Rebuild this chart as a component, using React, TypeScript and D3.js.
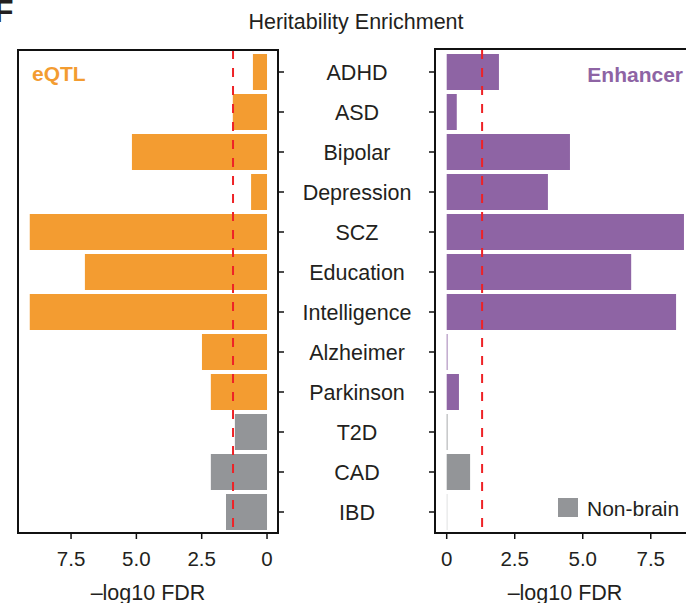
import * as d3 from 'd3';

const categories = ['ADHD', 'ASD', 'Bipolar', 'Depression', 'SCZ', 'Education', 'Intelligence', 'Alzheimer', 'Parkinson', 'T2D', 'CAD', 'IBD'];
const nonBrain = ['T2D', 'CAD', 'IBD'];
const eqtlValues = [0.54, 1.31, 5.17, 0.61, 9.08, 6.97, 9.08, 2.49, 2.15, 1.23, 2.15, 1.57];
const enhancerValues = [1.92, 0.37, 4.53, 3.72, 8.72, 6.78, 8.43, 0.03, 0.45, 0.02, 0.86, 0.01];
const xTicks = [0, 2.5, 5, 7.5];
const fdrCutoff = 1.301; // -log10(0.05)

const ORANGE = '#F39C31';
const PURPLE = '#8E64A4';
const GRAY = '#939598';
const RED = '#EE2226';
const FONT = '"Liberation Sans", Arial, Helvetica, sans-serif';

export default function App() {
  const width = 686;
  const height = 603;
  const top = 50;
  const bottom = 533;

  const y = d3.scaleBand<string>()
    .domain(categories)
    .range([top + 2, bottom - 1])
    .paddingInner(0.1)
    .paddingOuter(0.05);

  // left panel: reversed axis
  const xL = d3.scaleLinear().domain([-0.42, 9.53]).range([278, 18]);
  // right panel
  const xR = d3.scaleLinear().domain([-0.43, 9.53]).range([435, 706]);

  const colorOf = (c: string, base: string) => (nonBrain.includes(c) ? GRAY : base);
  const bw = y.bandwidth();

  return (
    <svg width={width} height={height} style={{ position: 'absolute', left: 0, top: 0 }} fontFamily={FONT}>
      <rect width={width} height={height} fill="#fff" />
      <text x={-6} y={22} fontSize={32} fontWeight="bold" fill="#231F20">F</text>
      <text x={356} y={29} fontSize={21.5} textAnchor="middle" fill="#231F20">Heritability Enrichment</text>

      {/* eQTL panel */}
      <g>
        {categories.map((c, i) => (
          <rect key={c} x={xL(eqtlValues[i])} y={y(c)} width={xL(0) - xL(eqtlValues[i])} height={bw} fill={colorOf(c, ORANGE)} />
        ))}
        <line x1={xL(fdrCutoff)} x2={xL(fdrCutoff)} y1={top} y2={bottom} stroke={RED} strokeWidth={2} strokeDasharray="9,9" />
        <rect x={xL.range()[1]} y={top} width={xL.range()[0] - xL.range()[1]} height={bottom - top} fill="none" stroke="#111" strokeWidth={2} />
        {categories.map(c => (
          <line key={c} x1={278} x2={284} y1={y(c)! + bw / 2} y2={y(c)! + bw / 2} stroke="#111" strokeWidth={1.5} />
        ))}
        {xTicks.map(t => (
          <g key={t}>
            <line x1={xL(t)} x2={xL(t)} y1={bottom} y2={bottom + 6} stroke="#111" strokeWidth={1.5} />
            <text x={xL(t)} y={566} fontSize={20.5} textAnchor="middle" fill="#231F20">{t === 0 ? '0' : d3.format('.1f')(t)}</text>
          </g>
        ))}
        <text x={148} y={600} fontSize={21.5} textAnchor="middle" fill="#231F20">{'\u2013log10 FDR'}</text>
        <text x={32} y={81} fontSize={21} fontWeight="bold" fill={ORANGE}>eQTL</text>
      </g>

      {/* category labels */}
      {categories.map(c => (
        <text key={c} x={357} y={y(c)! + bw / 2 + 7.5} fontSize={21.5} textAnchor="middle" fill="#231F20">{c}</text>
      ))}

      {/* Enhancer panel */}
      <g>
        {categories.map((c, i) => (
          <rect key={c} x={xR(0)} y={y(c)} width={Math.max(0.8, xR(enhancerValues[i]) - xR(0))} height={bw} fill={colorOf(c, PURPLE)} opacity={c === 'IBD' ? 0.35 : 1} />
        ))}
        <line x1={xR(fdrCutoff)} x2={xR(fdrCutoff)} y1={top} y2={bottom} stroke={RED} strokeWidth={2} strokeDasharray="9,9" />
        <rect x={xR.range()[0]} y={top - 1} width={xR.range()[1] - xR.range()[0]} height={bottom - top + 1} fill="none" stroke="#111" strokeWidth={2} />
        {categories.map(c => (
          <line key={c} x1={429} x2={435} y1={y(c)! + bw / 2} y2={y(c)! + bw / 2} stroke="#111" strokeWidth={1.5} />
        ))}
        {xTicks.map(t => (
          <g key={t}>
            <line x1={xR(t)} x2={xR(t)} y1={bottom} y2={bottom + 6} stroke="#111" strokeWidth={1.5} />
            <text x={xR(t)} y={566} fontSize={20.5} textAnchor="middle" fill="#231F20">{t === 0 ? '0' : d3.format('.1f')(t)}</text>
          </g>
        ))}
        <text x={565} y={600} fontSize={21.5} textAnchor="middle" fill="#231F20">{'\u2013log10 FDR'}</text>
        <text x={683} y={82} fontSize={21} fontWeight="bold" fill={PURPLE} textAnchor="end">Enhancer</text>
        <rect x={558} y={498} width={20} height={19} fill={GRAY} />
        <text x={587} y={516} fontSize={21} fill="#231F20">Non-brain</text>
      </g>
    </svg>
  );
}
